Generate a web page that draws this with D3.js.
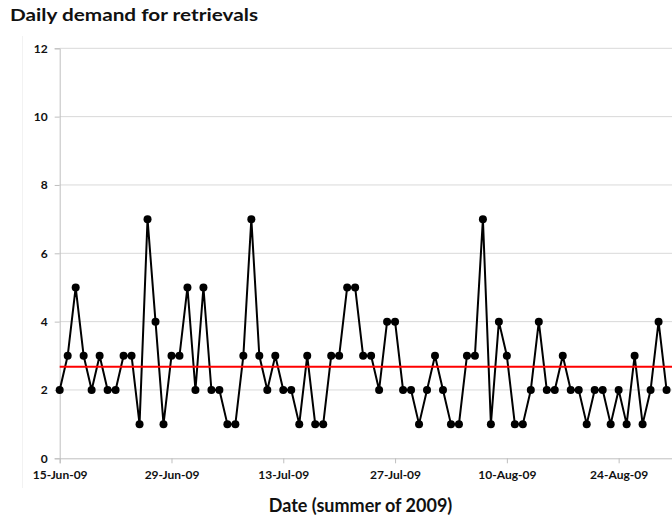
<!DOCTYPE html>
<html>
<head>
<meta charset="utf-8">
<script src="https://cdn.jsdelivr.net/npm/d3@7"></script>
<style>
  html, body { margin: 0; padding: 0; background: #fff; }
  svg { display: block; }
  text { font-family: Lato, "Open Sans", "DejaVu Sans", sans-serif; font-weight: bold; fill: #111; }
</style>
</head>
<body>
<svg id="chart" width="672" height="520"></svg>
<script>
// ---- data ----
const firstDay = "2009-06-15";
const demand = [
  2,3,5,3,2,3,2,2,3,3,1,7,4,1,3,3,5,2,
  5,2,2,1,1,3,7,3,2,3,2,2,1,3,1,1,3,3,5,
  5,3,3,2,4,4,2,2,1,2,3,2,1,1,3,3,7,1,4,
  3,1,1,2,4,2,2,3,2,2,1,2,2,1,2,1,3,1,2,4,2
];
const meanDemand = 2.68;
const yTicks = [0, 2, 4, 6, 8, 10, 12];
const xTickLabels = ["15-Jun-09", "29-Jun-09", "13-Jul-09", "27-Jul-09", "10-Aug-09", "24-Aug-09"];
const titleText = "Daily demand for retrievals";
const xTitle = "Date (summer of 2009)";

// ---- build ----
const parse = d3.timeParse("%Y-%m-%d");
const start = parse(firstDay);
const points = demand.map((v, i) => ({ date: d3.timeDay.offset(start, i), value: v }));
const tickDates = xTickLabels.map(d3.timeParse("%d-%b-%y"));

const svg = d3.select("#chart");
const W = 672, H = 520;
const x0 = 59.7, y0 = 458.3, yTop = 48.3;
const pxPerDay = 7.985;
const endDate = d3.timeDay.offset(start, 80);

const x = d3.scaleTime().domain([start, endDate]).range([x0, x0 + pxPerDay * 80]);
const y = d3.scaleLinear().domain([0, 12]).range([y0, yTop]);

// faint outer border line
svg.append("line").attr("x1", 22.5).attr("x2", 22.5).attr("y1", 36).attr("y2", 488)
  .attr("stroke", "#f2f2f2").attr("stroke-width", 1);

// title
svg.append("text").attr("x", 10).attr("y", 21).attr("font-size", 17)
  .attr("textLength", 248).attr("lengthAdjust", "spacingAndGlyphs").text(titleText);

// gridlines
svg.append("g").selectAll("line").data(yTicks.filter(d => d > 0)).join("line")
  .attr("x1", x0).attr("x2", W).attr("y1", d => y(d)).attr("y2", d => y(d))
  .attr("stroke", "#d9d9d9").attr("stroke-width", 1);

// y axis
const yAxis = d3.axisLeft(y).tickValues(yTicks).tickSize(5).tickPadding(7).tickFormat(d3.format("d"));
const gy = svg.append("g").attr("transform", `translate(${x0},0)`).call(yAxis);
gy.select(".domain").attr("stroke", "#bfbfbf");
gy.selectAll(".tick line").attr("stroke", "#bfbfbf");
gy.selectAll(".tick text").attr("font-size", 12).attr("fill", "#111")
  .style("font-family", "Lato, sans-serif").style("font-weight", "bold");

// x axis
const xAxis = d3.axisBottom(x).tickValues(tickDates).tickSize(5).tickPadding(7)
  .tickFormat(d3.timeFormat("%d-%b-%y"));
const gx = svg.append("g").attr("transform", `translate(0,${y0})`).call(xAxis);
gx.select(".domain").attr("stroke", "#bfbfbf");
gx.selectAll(".tick line").attr("stroke", "#bfbfbf");
gx.selectAll(".tick text").attr("font-size", 12).attr("fill", "#111")
  .style("font-family", "Lato, sans-serif").style("font-weight", "bold");

// x title
svg.append("text").attr("x", 360.5).attr("y", 512).attr("text-anchor", "middle")
  .attr("font-size", 18).text(xTitle);

// series line
const line = d3.line().x(d => x(d.date)).y(d => y(d.value));
svg.append("path").datum(points).attr("d", line)
  .attr("fill", "none").attr("stroke", "#000").attr("stroke-width", 2).attr("stroke-linejoin", "round");

// mean line
svg.append("line").attr("x1", x0).attr("x2", W).attr("y1", y(meanDemand)).attr("y2", y(meanDemand))
  .attr("stroke", "#ff0000").attr("stroke-width", 2);

// markers
svg.append("g").selectAll("circle").data(points).join("circle")
  .attr("cx", d => x(d.date)).attr("cy", d => y(d.value)).attr("r", 4).attr("fill", "#000");
</script>
</body>
</html>
